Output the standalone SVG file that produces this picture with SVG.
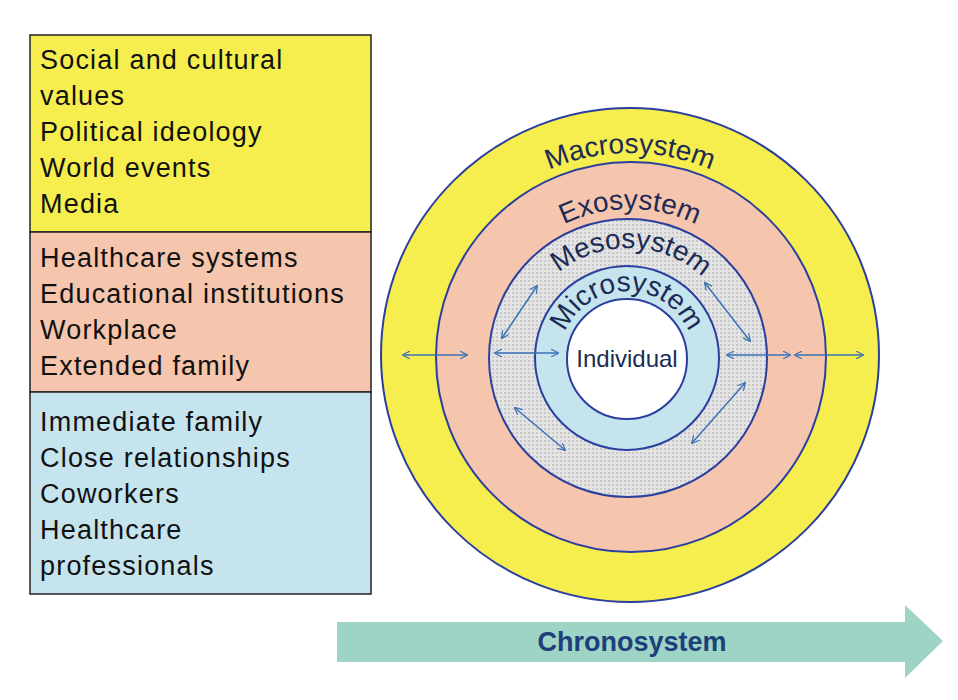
<svg xmlns="http://www.w3.org/2000/svg" xmlns:xlink="http://www.w3.org/1999/xlink" width="958" height="700" viewBox="0 0 958 700">
<style>
.box{stroke:#222;stroke-width:1.5}
.lt{font-family:"Liberation Sans",Arial,sans-serif;font-size:27px;letter-spacing:1.2px;fill:#111}
.ring{stroke:#2b3f9e;stroke-width:2}
.rt{font-family:"Liberation Sans",Arial,sans-serif;font-size:28px;fill:#1c2b55}
.ar{stroke:#3a72b8;stroke-width:1.5;fill:none;marker-start:url(#ah);marker-end:url(#ah)}
</style>
<defs>
<marker id="ah" viewBox="0 0 10 10" refX="9" refY="5" markerWidth="8" markerHeight="8" orient="auto-start-reverse" markerUnits="userSpaceOnUse"><path d="M0,0 L10,5 L0,10" fill="none" stroke="#3a72b8" stroke-width="1.5"/></marker>
<pattern id="dots" width="4" height="4" patternUnits="userSpaceOnUse"><rect width="4" height="4" fill="#e4e4e4"/><rect width="2" height="2" fill="#c8c8c8"/></pattern>
<path id="pMa" d="M426,357 A204,204 0 0 1 834,357"/>
<path id="pEx" d="M482,357 A148,148 0 0 1 778,357"/>
<path id="pMe" d="M518,358 A110,110 0 0 1 738,358"/>
<path id="pMi" d="M560,358 A67,67 0 0 1 694,358"/>
</defs>
<rect width="958" height="700" fill="#fff"/>
<g id="legend">
<rect class="box" x="30" y="35" width="341" height="197" fill="#f5ee4e"/>
<rect class="box" x="30" y="232" width="341" height="160" fill="#f5c6ad"/>
<rect class="box" x="30" y="392" width="341" height="202" fill="#c5e4ee"/>
<text class="lt" x="40" y="69">Social and cultural</text>
<text class="lt" x="40" y="105">values</text>
<text class="lt" x="40" y="141">Political ideology</text>
<text class="lt" x="40" y="177">World events</text>
<text class="lt" x="40" y="213">Media</text>
<text class="lt" x="40" y="267">Healthcare systems</text>
<text class="lt" x="40" y="303">Educational institutions</text>
<text class="lt" x="40" y="339">Workplace</text>
<text class="lt" x="40" y="375">Extended family</text>
<text class="lt" x="40" y="431">Immediate family</text>
<text class="lt" x="40" y="467">Close relationships</text>
<text class="lt" x="40" y="503">Coworkers</text>
<text class="lt" x="40" y="539">Healthcare</text>
<text class="lt" x="40" y="575">professionals</text>
</g>
<g id="macro"><ellipse class="ring" cx="630" cy="355" rx="249" ry="247" fill="#f5ee4e"/>
<text class="rt"><textPath xlink:href="#pMa" href="#pMa" startOffset="50%" text-anchor="middle">Macrosystem</textPath></text></g>
<g id="exo"><circle class="ring" cx="631" cy="357" r="195" fill="#f5c6ad"/>
<text class="rt"><textPath xlink:href="#pEx" href="#pEx" startOffset="50%" text-anchor="middle">Exosystem</textPath></text></g>
<g id="meso"><circle class="ring" cx="628" cy="358" r="139" fill="url(#dots)"/>
<text class="rt" font-size="27"><textPath xlink:href="#pMe" href="#pMe" startOffset="51%" text-anchor="middle">Mesosystem</textPath></text></g>
<g id="micro"><circle class="ring" cx="627" cy="358" r="92" fill="#c5e4ee"/>
<text class="rt" font-size="26"><textPath xlink:href="#pMi" href="#pMi" startOffset="50%" text-anchor="middle">Microsystem</textPath></text></g>
<g id="individual"><circle class="ring" cx="627" cy="359" r="60" fill="#fff"/>
<text x="627" y="367" text-anchor="middle" font-family="Liberation Sans,Arial,sans-serif" font-size="24" fill="#1c2b55">Individual</text></g>
<g id="connectors">
<line class="ar" x1="403" y1="355" x2="467" y2="355"/>
<line class="ar" x1="795" y1="355" x2="863" y2="355"/>
<line class="ar" x1="495" y1="353" x2="558" y2="353"/>
<line class="ar" x1="727" y1="355" x2="790" y2="355"/>
<line class="ar" x1="502" y1="338" x2="537" y2="286"/>
<line class="ar" x1="705" y1="283" x2="750" y2="341"/>
<line class="ar" x1="515" y1="408" x2="565" y2="450"/>
<line class="ar" x1="745" y1="383" x2="692" y2="443"/>
</g>
<g id="chronosystem">
<path d="M337,622 H905 V605 L943,641 L905,678 V662 H337 Z" fill="#9dd4c6"/>
<text x="632" y="651" text-anchor="middle" font-family="Liberation Sans,Arial,sans-serif" font-size="27" font-weight="bold" fill="#1f3f7a">Chronosystem</text>
</g>
</svg>
